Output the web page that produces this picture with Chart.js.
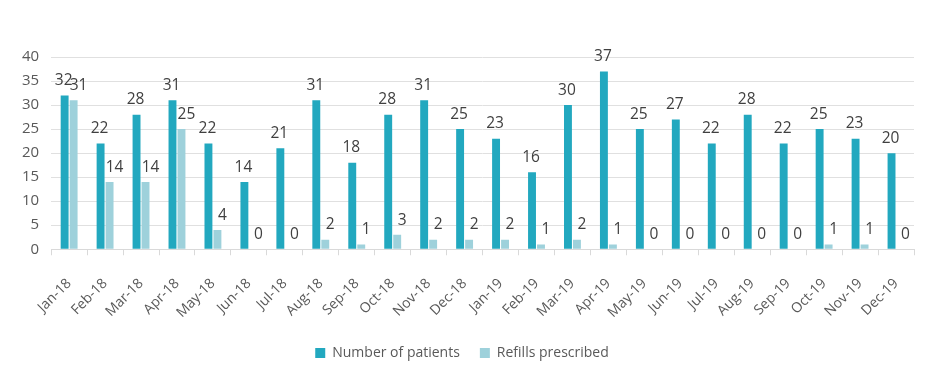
<!DOCTYPE html>
<html>
<head>
<meta charset="utf-8">
<script src="https://cdn.jsdelivr.net/npm/chart.js@4.4.0/dist/chart.umd.min.js"></script>
<style>
html,body{margin:0;padding:0;background:#fff;}
#wrap{width:932px;height:376px;position:relative;}
</style>
</head>
<body>
<div id="wrap"><canvas id="c" width="932" height="376"></canvas></div>
<script>
const categories = ["Jan-18","Feb-18","Mar-18","Apr-18","May-18","Jun-18","Jul-18","Aug-18","Sep-18","Oct-18","Nov-18","Dec-18","Jan-19","Feb-19","Mar-19","Apr-19","May-19","Jun-19","Jul-19","Aug-19","Sep-19","Oct-19","Nov-19","Dec-19"];
const patients = [32,22,28,31,22,14,21,31,18,28,31,25,23,16,30,37,25,27,22,28,22,25,23,20];
const refills = [31,14,14,25,4,0,0,2,1,3,2,2,2,1,2,1,0,0,0,0,0,1,1,0];
const yTicks = [0,5,10,15,20,25,30,35,40];

const labelPlugin = {
  id: 'barLabels',
  afterDatasetsDraw(chart) {
    const ctx = chart.ctx;
    ctx.save();
    ctx.font = '15.5px "Open Sans", "Liberation Sans", sans-serif';
    ctx.fillStyle = '#404040';
    ctx.textAlign = 'center';
    ctx.textBaseline = 'bottom';
    chart.data.datasets.forEach((ds, di) => {
      const meta = chart.getDatasetMeta(di);
      meta.data.forEach((bar, i) => {
        const dx = di === 1 ? 5 : -1;
        ctx.fillText(String(ds.data[i]), bar.x + dx, bar.y - 7);
      });
    });
    ctx.restore();
  }
};

new Chart(document.getElementById('c'), {
  type: 'bar',
  data: {
    labels: categories,
    datasets: [
      { label: 'Number of patients', data: patients, backgroundColor: '#22A8BF', barPercentage: 0.88, categoryPercentage: 0.5 },
      { label: 'Refills prescribed', data: refills, backgroundColor: '#9ED1DB', barPercentage: 0.88, categoryPercentage: 0.5 }
    ]
  },
  options: {
    responsive: false,
    animation: false,
    layout: { padding: { top: 57, right: 18, left: 10, bottom: 6 } },
    plugins: {
      legend: {
        position: 'bottom',
        labels: {
          boxWidth: 10, boxHeight: 10, padding: 20,
          color: '#595959',
          font: { family: '"Open Sans", "Liberation Sans", sans-serif', size: 14 }
        }
      },
      tooltip: { enabled: false }
    },
    scales: {
      x: {
        afterFit(axis) { axis.height -= 15; },
        grid: { offset: true, drawOnChartArea: false, drawTicks: true, tickLength: 6, color: '#d9d9d9' },
        border: { display: true, color: '#d9d9d9' },
        ticks: {
          minRotation: 45, maxRotation: 45, color: '#595959', padding: 20,
          font: { family: '"Open Sans", "Liberation Sans", sans-serif', size: 14 }
        }
      },
      y: {
        min: 0, max: 40,
        afterBuildTicks(axis) { axis.ticks = yTicks.map(v => ({ value: v })); },
        grid: { color: '#e0e0e0', drawTicks: false },
        border: { display: false },
        ticks: {
          color: '#595959', padding: 12,
          font: { family: '"Open Sans", "Liberation Sans", sans-serif', size: 15 }
        }
      }
    }
  },
  plugins: [labelPlugin]
});
</script>
</body>
</html>
